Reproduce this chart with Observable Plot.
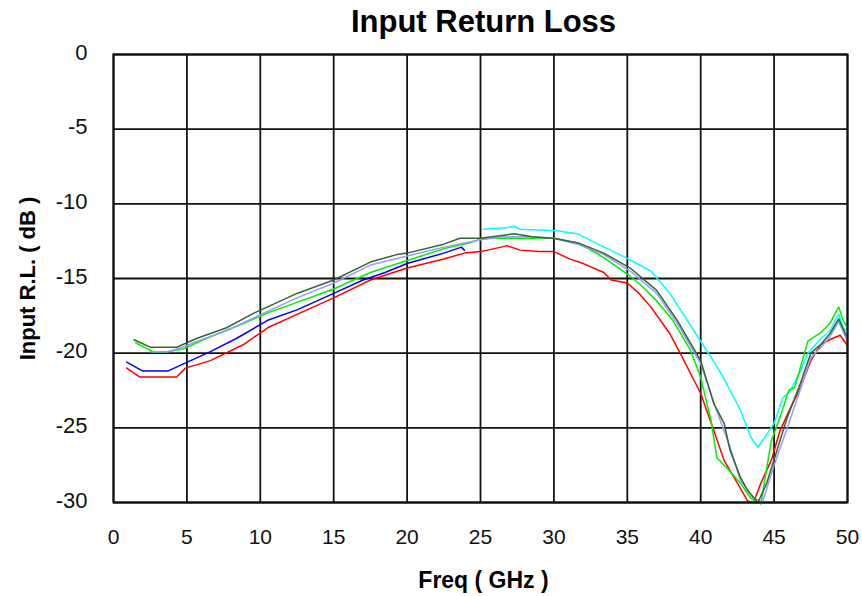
<!DOCTYPE html>
<html>
<head>
<meta charset="utf-8">
<script src="https://cdn.jsdelivr.net/npm/d3@7"></script>
<script src="https://cdn.jsdelivr.net/npm/@observablehq/plot@0.6"></script>
<style>
  html, body { margin: 0; padding: 0; background: #fff; }
  svg { display: block; }
</style>
</head>
<body>
<div id="chart"></div>
<script>
const xTicks = [0, 5, 10, 15, 20, 25, 30, 35, 40, 45, 50];
const yTicks = [0, -5, -10, -15, -20, -25, -30];

const redX = [0.9,1.8,4.3,4.9,6.6,8.9,10.5,12.5,15,17.5,20,22.5,23.9,25,26.4,26.8,27.7,29,30,31.1,32,33.4,33.9,35,35.8,36.6,37.9,38.6,40,40.9,41.6,42.5,43.2,43.6,44.1,44.8,45.4,46.1,46.8,47.5,48.2,49,49.5,50];
const redY = [-21.0,-21.6,-21.6,-21.0,-20.5,-19.4,-18.3,-17.4,-16.3,-15.1,-14.3,-13.7,-13.3,-13.2,-12.9,-12.8,-13.1,-13.2,-13.2,-13.7,-14.0,-14.6,-15.1,-15.3,-16.0,-16.9,-18.7,-20.0,-22.7,-25.2,-27.2,-28.7,-29.9,-30.0,-28.7,-27.2,-25.2,-23.7,-22.3,-20.5,-19.4,-19.0,-18.8,-19.5];

const blueX = [0.9,2.0,3.7,4.8,6.6,8.4,10.5,12.5,15,17,18.5,20,22.5,23.7,23.9];
const blueY = [-20.6,-21.2,-21.2,-20.7,-19.9,-19.0,-17.8,-17.1,-16.0,-15.1,-14.6,-14.0,-13.3,-12.9,-13.1];

const greenX = [1.5,2.7,3.7,4.8,6.6,8.9,10.5,12.5,15,17.5,20,22.5,24.3,25.2,26.6,28,30,31.8,33.4,35,36,37,38.1,39.3,40,40.7,41.1,41.8,42.7,43.4,44.1,44.8,45.4,46,46.4,47.3,48.2,48.8,49.4,49.7,50];
const greenY = [-19.3,-19.9,-19.9,-19.7,-18.9,-18.0,-17.3,-16.6,-15.7,-14.6,-13.8,-13.0,-12.6,-12.3,-12.3,-12.3,-12.3,-12.7,-13.6,-14.7,-15.5,-16.5,-17.8,-19.8,-21.6,-24.5,-27.0,-27.7,-28.7,-29.7,-30.1,-25.9,-24.3,-22.5,-22.3,-19.2,-18.6,-18.0,-16.9,-17.8,-18.3];

const lavenderX = [2.5,3.7,4.7,5.7,7.7,10.5,12.5,15,17.5,20,22.5,25,26.6,28,30,31.6,33.4,35.2,37,38.4,40,41,42,42.7,43.5,44.2,45,45.9,46.8,47.5,48.2,48.8,49.4,49.9];
const lavenderY = [-19.9,-19.9,-19.6,-19.2,-18.5,-17.2,-16.3,-15.3,-14.1,-13.5,-12.9,-12.4,-12.2,-12.2,-12.3,-12.7,-13.4,-14.5,-16.0,-18.0,-20.7,-23.6,-26.3,-28.5,-29.6,-30.0,-27.5,-25.0,-22.4,-20.3,-19.6,-18.9,-17.9,-19.0];

const darkGreenX = [1.4,2.5,4.3,5.0,5.7,7.7,9.6,10.5,12.5,15,17.5,19.3,20,22.5,23.6,25,26.6,27.3,28.5,30,31.6,33.4,35.2,37,38.4,40,40.9,41.6,42,42.7,43.2,43.9,44.5,45.2,45.9,46.8,47.5,48.2,48.8,49.4,49.9];
const darkGreenY = [-19.1,-19.6,-19.6,-19.3,-19.0,-18.3,-17.3,-16.9,-16.0,-15.1,-13.9,-13.4,-13.3,-12.7,-12.3,-12.3,-12.1,-12.0,-12.2,-12.3,-12.6,-13.3,-14.3,-15.8,-17.8,-20.5,-23.4,-24.7,-26.5,-28.3,-29.2,-30.0,-28.7,-26.5,-24.3,-22.0,-20.0,-19.4,-18.7,-17.7,-18.8];

const cyanX = [25.2,26.8,27.3,27.7,30.2,31.6,33,34.7,36.6,37.9,40,41.3,42.7,43.4,43.9,45,45.6,46.1,46.7,47.3,48.2,48.8,49.4,49.7,50];
const cyanY = [-11.7,-11.6,-11.5,-11.7,-11.8,-12.0,-12.7,-13.5,-14.5,-16.0,-19.2,-21.2,-23.8,-25.6,-26.3,-24.7,-23.0,-22.5,-21.4,-20.0,-19.0,-18.5,-17.4,-18.3,-18.6];

const seriesDefs = [
  {name: "cyan", xs: cyanX, ys: cyanY, color: "#00ffff"},
  {name: "red", xs: redX, ys: redY, color: "#ff0000"},
  {name: "blue", xs: blueX, ys: blueY, color: "#0000ff"},
  {name: "green", xs: greenX, ys: greenY, color: "#00f000"},
  {name: "lavender", xs: lavenderX, ys: lavenderY, color: "#9999ff"},
  {name: "darkgreen", xs: darkGreenX, ys: darkGreenY, color: "#336633"}
];

const font = "'Liberation Sans', Arial, sans-serif";

const lineMarks = seriesDefs.map(s =>
  Plot.line(s.xs.map((x, i) => ({x, y: s.ys[i]})), {x: "x", y: "y", stroke: s.color, strokeWidth: 1.5, curve: "linear"})
);

const chart = Plot.plot({
  width: 862,
  height: 596,
  marginLeft: 113,
  marginRight: 15,
  marginTop: 54,
  marginBottom: 94,
  style: {background: "#fff", fontFamily: font},
  x: {domain: [0, 50]},
  y: {domain: [-30, 0]},
  marks: [
    Plot.ruleX(xTicks, {stroke: "#111", strokeWidth: 1.8}),
    Plot.ruleY(yTicks, {stroke: "#111", strokeWidth: 1.8}),
    ...lineMarks,
    Plot.frame({stroke: "#111", strokeWidth: 2}),
    Plot.axisY(yTicks, {tickSize: 0, tickPadding: 26, dy: -2, fontSize: 22, fill: "#111", label: null, tickFormat: d => String(d)}),
    Plot.axisX(xTicks, {tickSize: 0, tickPadding: 27, fontSize: 21, fill: "#111", label: null, tickFormat: d => String(d)}),
    Plot.text(["Input Return Loss"], {frameAnchor: "top", lineAnchor: "middle", dy: -32, dx: 3, fontSize: 31, fontWeight: "bold", fill: "#000"}),
    Plot.text(["Freq ( GHz )"], {frameAnchor: "bottom", lineAnchor: "middle", dy: 78, dx: 3, fontSize: 23, fontWeight: "bold", fill: "#000"}),
    Plot.text(["Input R.L. ( dB )"], {frameAnchor: "left", textAnchor: "middle", lineAnchor: "middle", dx: -86, rotate: -90, fontSize: 22, fontWeight: "bold", fill: "#000"})
  ]
});
document.getElementById("chart").appendChild(chart);
</script>
</body>
</html>
